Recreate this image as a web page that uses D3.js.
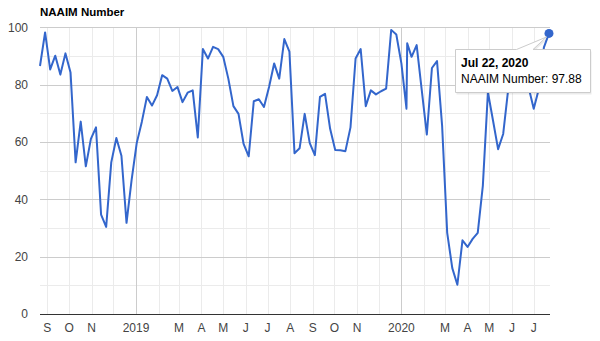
<!DOCTYPE html>
<html>
<head>
<meta charset="utf-8">
<script src="https://cdn.jsdelivr.net/npm/d3@7"></script>
<style>
  body { margin: 0; background: #fff; }
  svg { display: block; font-family: Arial, "Liberation Sans", sans-serif; }
</style>
</head>
<body>
<script>
// weekly survey dates and readings
let dates = [
  '2018-08-22','2018-08-29','2018-09-05','2018-09-12','2018-09-19','2018-09-26','2018-10-03','2018-10-10',
  '2018-10-17','2018-10-24','2018-10-31','2018-11-07','2018-11-14','2018-11-21','2018-11-28','2018-12-05',
  '2018-12-12','2018-12-19','2018-12-26','2019-01-02','2019-01-09','2019-01-16','2019-01-23','2019-01-30',
  '2019-02-06','2019-02-13','2019-02-20','2019-02-27','2019-03-06','2019-03-13','2019-03-20','2019-03-27',
  '2019-04-03','2019-04-10','2019-04-17','2019-04-24','2019-05-01','2019-05-08','2019-05-15','2019-05-22',
  '2019-05-29','2019-06-05','2019-06-12','2019-06-19','2019-06-26','2019-07-03','2019-07-10','2019-07-17',
  '2019-07-24','2019-07-31','2019-08-07','2019-08-14','2019-08-21','2019-08-28','2019-09-04','2019-09-11',
  '2019-09-18','2019-09-25','2019-10-02','2019-10-09','2019-10-16','2019-10-23','2019-10-30','2019-11-06',
  '2019-11-13','2019-11-20','2019-11-27','2019-12-04','2019-12-11','2019-12-18','2019-12-25','2020-01-01',
  '2020-01-08','2020-01-09','2020-01-15','2020-01-22','2020-01-29','2020-02-05','2020-02-12','2020-02-19',
  '2020-02-26','2020-03-04','2020-03-11','2020-03-18','2020-03-25','2020-04-01','2020-04-08','2020-04-15',
  '2020-04-22','2020-04-29','2020-05-06','2020-05-13','2020-05-20','2020-05-27','2020-06-03','2020-06-10',
  '2020-06-17','2020-06-24','2020-07-01','2020-07-08','2020-07-15','2020-07-22'
]

let naaim = [
  86.5, 98.2, 85.3, 90.1, 83.5, 90.9, 84.2, 52.9,
  67.1, 51.5, 61.1, 65.1, 34.7, 30.4, 52.9, 61.4,
  55.2, 31.8, 46.8, 59.6, 67.0, 75.7, 72.7, 76.3,
  83.3, 82.1, 77.8, 79.2, 73.9, 77.2, 78.0, 61.6,
  92.4, 89.1, 93.2, 92.4, 89.7, 82.1, 72.5, 69.8,
  59.3, 55.0, 74.2, 74.9, 72.2, 79.2, 87.4, 82.1,
  95.9, 91.5, 56.1, 57.8, 69.8, 59.6, 55.4, 75.7,
  76.8, 64.6, 57.2, 57.1, 56.8, 65.1, 89.1, 92.4,
  72.5, 78.0, 76.6, 77.7, 78.6, 99.1, 97.5, 87.4,
  71.6, 94.4, 89.7, 93.8, 78.1, 62.6, 85.8, 88.2,
  65.7, 28.3, 16.0, 10.2, 25.7, 23.4, 26.2, 28.3,
  44.7, 77.4, 67.5, 57.5, 62.8, 78.6, 86.0, 90.0,
  86.0, 79.0, 71.6, 78.5, 93.0, 97.88
]

let yTicks = [0, 20, 40, 60, 80, 100]
let yMinorTicks = [10, 30, 50, 70, 90]
let monthLetters = ['', '', 'M', 'A', 'M', 'J', 'J', 'A', 'S', 'O', 'N', '']

let TITLE = 'NAAIM Number'
let LINE_COLOR = '#3366cc'

let parse = d3.timeParse('%Y-%m-%d')
let points = dates.map((d, i) => ({date: parse(d), value: naaim[i]}))
let last = points[points.length - 1]

let svg = d3.select('body').append('svg')
    .attr('width', 600)
    .attr('height', 341)

let x = d3.scaleTime()
    .domain(d3.extent(points, d => d.date))
    .range([40, 549])

let y = d3.scaleLinear()
    .domain([0, 100])
    .range([314, 27.3])

// minor horizontal grid
svg.selectAll('.y-minor')
    .data(yMinorTicks)
    .join('line')
    .attr('x1', 40).attr('x2', 550)
    .attr('y1', d => Math.round(y(d)) + 0.5)
    .attr('y2', d => Math.round(y(d)) + 0.5)
    .style('stroke', '#ebebeb')

// month grid
let months = d3.timeMonth.range(d3.timeMonth.ceil(x.domain()[0]), x.domain()[1])
svg.selectAll('.x-grid')
    .data(months)
    .join('line')
    .attr('x1', d => Math.round(x(d)) + 0.5)
    .attr('x2', d => Math.round(x(d)) + 0.5)
    .attr('y1', y(100)).attr('y2', 314)
    .style('stroke', d => d.getMonth() == 0 ? '#cccccc' : '#ebebeb')

// major horizontal grid
svg.selectAll('.y-major')
    .data(yTicks.filter(d => d > 0))
    .join('line')
    .attr('x1', 40).attr('x2', 550)
    .attr('y1', d => Math.round(y(d)) + 0.5)
    .attr('y2', d => Math.round(y(d)) + 0.5)
    .style('stroke', '#cccccc')

// baseline
svg.append('line')
    .attr('x1', 40).attr('x2', 550)
    .attr('y1', Math.round(y(0)) + 0.5)
    .attr('y2', Math.round(y(0)) + 0.5)
    .style('stroke', '#333333')

svg.selectAll('.y-label')
    .data(yTicks)
    .join('text')
    .attr('x', 28)
    .attr('y', d => y(d))
    .attr('dy', '0.36em')
    .attr('text-anchor', 'end')
    .style('font-size', '12px')
    .style('fill', '#444')
    .text(d => d)

svg.selectAll('.x-label')
    .data(months)
    .join('text')
    .attr('x', d => x(d))
    .attr('y', 332)
    .attr('text-anchor', 'middle')
    .style('font-size', '12px')
    .style('fill', '#444')
    .text(d => d.getMonth() == 0 ? d.getFullYear() : monthLetters[d.getMonth()])

svg.append('text')
    .attr('x', 40)
    .attr('y', 16)
    .style('font-size', '11.5px')
    .style('font-weight', 'bold')
    .style('fill', '#000')
    .text(TITLE)

let line = d3.line()
    .x(d => x(d.date))
    .y(d => y(d.value))

svg.append('path')
    .datum(points)
    .attr('d', line)
    .style('fill', 'none')
    .style('stroke', LINE_COLOR)
    .style('stroke-width', 2)
    .style('stroke-linejoin', 'round')

svg.append('circle')
    .attr('cx', x(last.date))
    .attr('cy', y(last.value))
    .attr('r', 4.5)
    .style('fill', LINE_COLOR)

// tooltip
let tip = 'M455.5,49.5 H516.5 L546.5,37 L533,49.5 H590.5 V92.5 H455.5 Z'
svg.append('path')
    .attr('d', tip)
    .attr('transform', 'translate(1,2)')
    .style('fill', 'rgba(0,0,0,0.08)')
svg.append('path')
    .attr('d', tip)
    .style('fill', '#fff')
    .style('stroke', '#cccccc')

svg.append('text')
    .attr('x', 461)
    .attr('y', 67)
    .style('font-size', '12px')
    .style('font-weight', 'bold')
    .text(d3.timeFormat('%b %-d, %Y')(last.date))

svg.append('text')
    .attr('x', 461)
    .attr('y', 82.5)
    .style('font-size', '12px')
    .text('NAAIM Number: ' + last.value.toFixed(2))
</script>
</body>
</html>
